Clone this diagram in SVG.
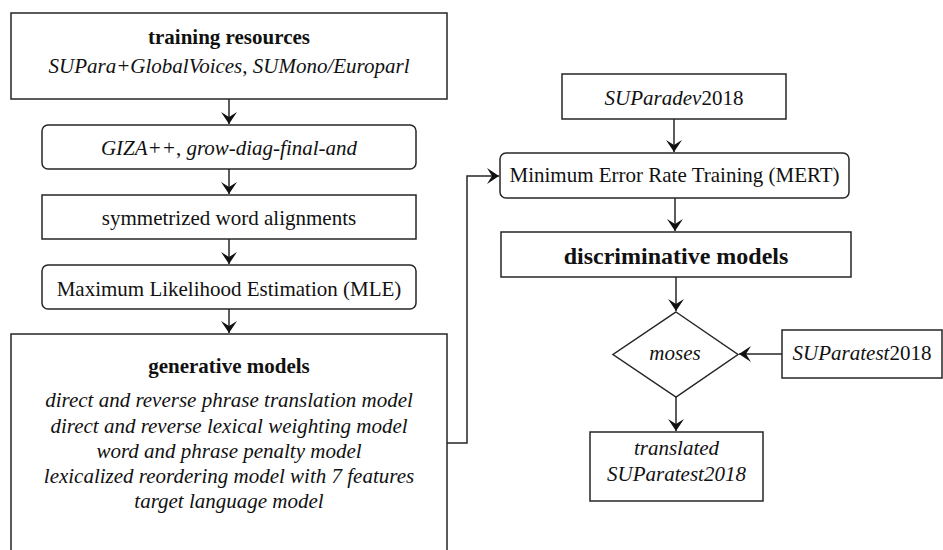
<svg xmlns="http://www.w3.org/2000/svg" width="943" height="550" viewBox="0 0 943 550">
<defs>
<style>
.box{fill:#fff;stroke:#262626;stroke-width:1.5}
.t{font-family:"Liberation Serif","Times New Roman",serif;font-size:21px;fill:#111;text-anchor:middle}
.b{font-weight:bold}
.i{font-style:italic}
.c{fill:none;stroke:#262626;stroke-width:1.5}
</style>
<marker id="ah" markerUnits="userSpaceOnUse" viewBox="0 0 12 16" refX="12" refY="8" markerWidth="12" markerHeight="16" orient="auto">
<path d="M0,0 L12,8 L0,16 L5,8 z" fill="#111"/>
</marker>
</defs>
<rect width="943" height="550" fill="#fff"/>
<g id="connectors">
<path class="c" d="M229,99 V124" marker-end="url(#ah)"/>
<path class="c" d="M229,169 V194" marker-end="url(#ah)"/>
<path class="c" d="M229,239 V264" marker-end="url(#ah)"/>
<path class="c" d="M229,309 V333" marker-end="url(#ah)"/>
<path class="c" d="M447,443 H467 V176 H499" marker-end="url(#ah)"/>
<path class="c" d="M674,119 V152" marker-end="url(#ah)"/>
<path class="c" d="M675,198 V231" marker-end="url(#ah)"/>
<path class="c" d="M676,277 V311" marker-end="url(#ah)"/>
<path class="c" d="M782,354 H739" marker-end="url(#ah)"/>
<path class="c" d="M676,397 V431" marker-end="url(#ah)"/>
</g>
<g id="training">
<rect class="box" x="11" y="13" width="436" height="86"/>
<text class="t b" x="229" y="44">training resources</text>
<text class="t" x="229" y="73"><tspan class="i">SUPara+GlobalVoices</tspan>, <tspan class="i">SUMono/Europarl</tspan></text>
</g>
<g id="giza">
<rect class="box" x="42" y="125" width="374" height="44" rx="6"/>
<text class="t" x="229" y="155"><tspan class="i">GIZA++</tspan>, <tspan class="i">grow-diag-final-and</tspan></text>
</g>
<g id="sym">
<rect class="box" x="42" y="195" width="374" height="44"/>
<text class="t" x="229" y="225">symmetrized word alignments</text>
</g>
<g id="mle">
<rect class="box" x="42" y="265" width="374" height="44" rx="6"/>
<text class="t" x="229" y="296">Maximum Likelihood Estimation (MLE)</text>
</g>
<g id="generative">
<rect class="box" x="11" y="334" width="436" height="230"/>
<text class="t b" x="229" y="373">generative models</text>
<text class="t i" x="229" y="407">direct and reverse phrase translation model</text>
<text class="t i" x="229" y="433">direct and reverse lexical weighting model</text>
<text class="t i" x="229" y="458">word and phrase penalty model</text>
<text class="t i" x="229" y="483">lexicalized reordering model with 7 features</text>
<text class="t i" x="229" y="508">target language model</text>
</g>
<g id="dev">
<rect class="box" x="562" y="74" width="224" height="45"/>
<text class="t" x="674" y="105"><tspan class="i">SUParadev</tspan>2018</text>
</g>
<g id="mert">
<rect class="box" x="500" y="153" width="349" height="45" rx="6"/>
<text class="t" x="674.5" y="182">Minimum Error Rate Training (MERT)</text>
</g>
<g id="discriminative">
<rect class="box" x="501" y="232" width="350" height="45"/>
<text class="t b" x="676" y="264" style="font-size:24px">discriminative models</text>
</g>
<g id="moses">
<polygon class="box" points="676,312 738,354.5 676,397 613,354.5"/>
<text class="t i" x="675" y="360">moses</text>
</g>
<g id="test">
<rect class="box" x="782" y="330" width="160" height="48"/>
<text class="t" x="862" y="360"><tspan class="i">SUParatest</tspan>2018</text>
</g>
<g id="translated">
<rect class="box" x="590" y="432" width="173" height="69"/>
<text class="t i" x="676.5" y="455">translated</text>
<text class="t i" x="676.5" y="481">SUParatest2018</text>
</g>
</svg>
